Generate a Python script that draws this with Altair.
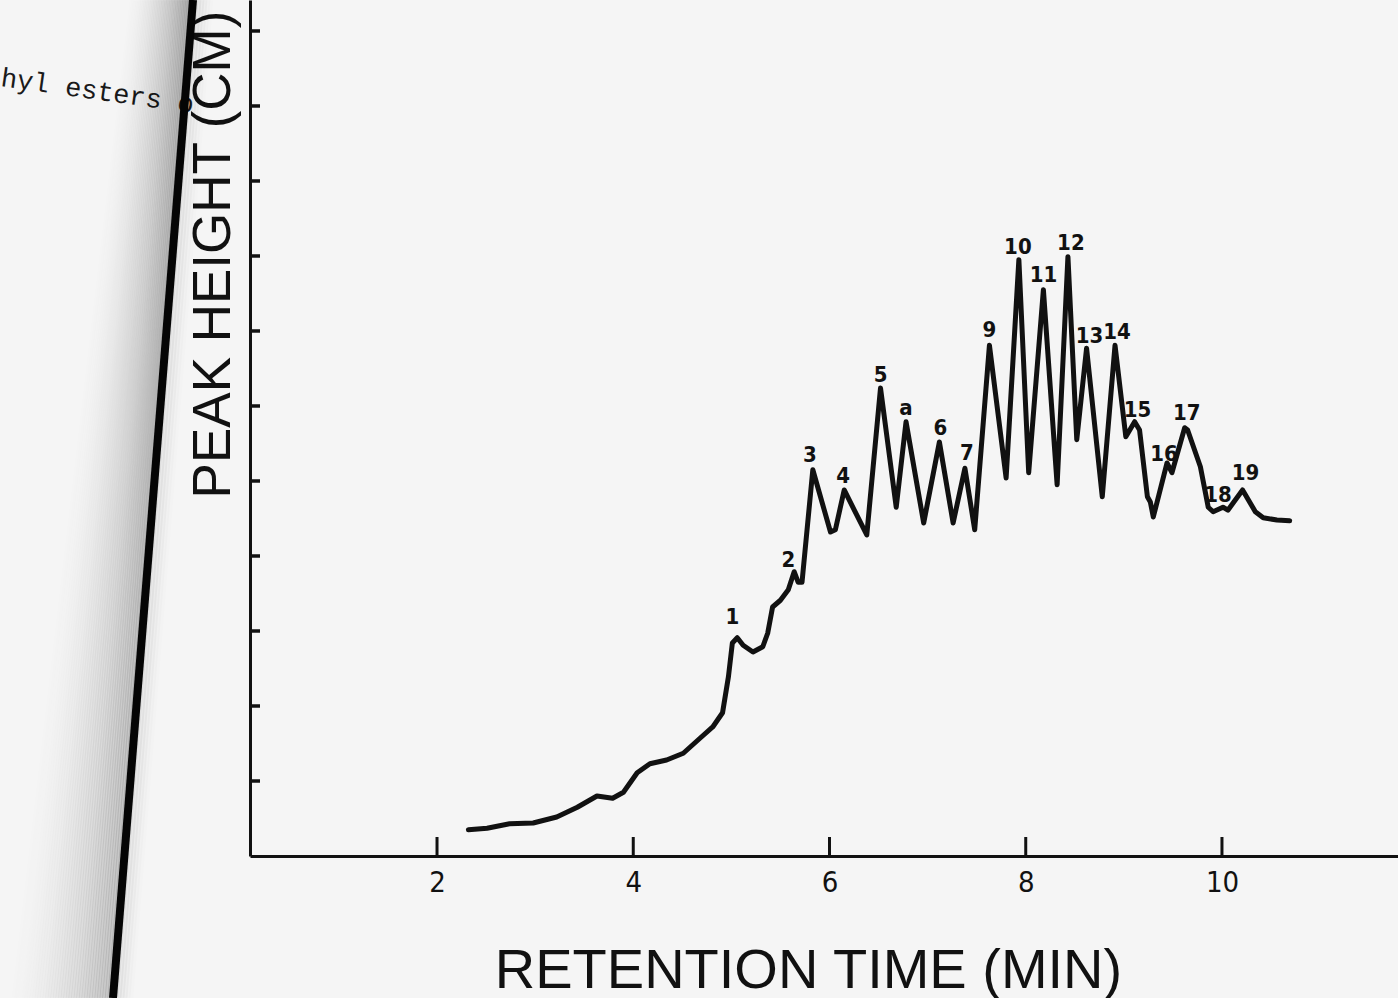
import altair as alt
import pandas as pd

# Chromatogram trace: retention time (min) against recorder peak height (cm)
time_min = [2.32, 2.51, 2.74, 2.98, 3.22, 3.43, 3.63, 3.79, 3.90, 4.04,
            4.17, 4.34, 4.51, 4.68, 4.81, 4.91, 4.97, 5.01, 5.06, 5.12,
            5.22, 5.32, 5.37, 5.42, 5.50, 5.58, 5.63, 5.64, 5.68, 5.72,
            5.83, 6.01, 6.06, 6.15, 6.38, 6.52, 6.68, 6.78, 6.96, 7.12,
            7.26, 7.38, 7.48, 7.63, 7.80, 7.93, 8.03, 8.18, 8.32, 8.43,
            8.52, 8.62, 8.78, 8.91, 9.02, 9.11, 9.16, 9.24, 9.27, 9.30,
            9.44, 9.49, 9.62, 9.65, 9.78, 9.86, 9.91, 10.01, 10.06, 10.21,
            10.34, 10.42, 10.56, 10.69]
height_cm = [0.35, 0.37, 0.43, 0.44, 0.52, 0.65, 0.80, 0.77, 0.85, 1.11,
             1.23, 1.28, 1.37, 1.57, 1.72, 1.91, 2.39, 2.84, 2.91, 2.81,
             2.72, 2.79, 2.97, 3.32, 3.41, 3.55, 3.75, 3.79, 3.65, 3.65,
             5.15, 4.32, 4.35, 4.88, 4.28, 6.24, 4.65, 5.79, 4.44, 5.52,
             4.44, 5.17, 4.35, 6.81, 5.04, 7.95, 5.11, 7.55, 4.95, 7.99,
             5.55, 6.77, 4.79, 6.81, 5.59, 5.79, 5.68, 4.79, 4.72, 4.52,
             5.24, 5.11, 5.71, 5.68, 5.19, 4.65, 4.59, 4.65, 4.61, 4.88,
             4.59, 4.51, 4.48, 4.47]

# Peak identifications, placed just above each peak
peak_names = ["1", "2", "3", "4", "5", "a", "6", "7", "9", "10",
              "11", "12", "13", "14", "15", "16", "17", "18", "19"]
peak_label_t = [5.01, 5.58, 5.80, 6.14, 6.52, 6.78, 7.13, 7.40, 7.63, 7.92,
                8.18, 8.46, 8.65, 8.93, 9.14, 9.41, 9.64, 9.96, 10.24]
peak_label_h = [3.19, 3.95, 5.35, 5.07, 6.41, 5.97, 5.71, 5.37, 7.01, 8.12,
                7.75, 8.17, 6.93, 6.99, 5.95, 5.36, 5.91, 4.81, 5.11]

x_ticks = [2, 4, 6, 8, 10]
y_ticks = list(range(1, 12))

INK = "#111111"
PAPER = "#f5f5f5"
LABEL_FONT = "Liberation Sans Narrow, DejaVu Sans Condensed, Liberation Sans"
TITLE_FONT = "Liberation Sans"

W, H = 1148, 856

x_enc = alt.X(
    "t:Q",
    scale=alt.Scale(domain=[0.094, 11.794], nice=False, zero=False),
    axis=alt.Axis(
        values=x_ticks, format="d", ticks=False, grid=False,
        labelFont=LABEL_FONT, labelFontSize=29, labelColor=INK,
        labelPadding=12, labelFlush=False,
        domainColor=INK, domainWidth=3,
        title="RETENTION TIME (MIN)", titleFont=TITLE_FONT,
        titleFontSize=56, titleFontWeight="normal", titleColor=INK,
        titleX=558, titleY=114, titleAlign="center",
        titleBaseline="middle",
    ),
)
y_enc = alt.Y(
    "h:Q",
    scale=alt.Scale(domain=[0, 11.413], nice=False, zero=False),
    axis=alt.Axis(
        labels=False, ticks=False, grid=False,
        domainColor=INK, domainWidth=3,
        title="PEAK HEIGHT (CM)", titleFont=TITLE_FONT,
        titleFontSize=53, titleFontWeight="normal", titleColor=INK,
        titleAngle=270, titleX=-37, titleY=254, titleAlign="center",
        titleBaseline="middle",
    ),
)

trace = pd.DataFrame({"t": time_min, "h": height_cm})
peaks = pd.DataFrame({"t": peak_label_t, "h": peak_label_h, "name": peak_names})
xt = pd.DataFrame({"t": x_ticks})
yt = pd.DataFrame({"h": y_ticks})
one = pd.DataFrame({"k": [0]})

line = alt.Chart(trace).mark_line(
    color=INK, strokeWidth=5, strokeJoin="round", strokeCap="round"
).encode(x=x_enc, y=y_enc)

labels = alt.Chart(peaks).mark_text(
    font=LABEL_FONT, fontSize=22, fontWeight="bold", color=INK,
    align="center", baseline="middle"
).encode(x=x_enc, y=y_enc, text="name:N")

# inward tick marks on both axes
x_tick_marks = alt.Chart(xt).mark_rule(color=INK, strokeWidth=3).encode(
    x=x_enc, y=alt.value(H), y2=alt.value(H - 19)
)
y_tick_marks = alt.Chart(yt).mark_rule(color=INK, strokeWidth=3.5).encode(
    y=y_enc, x=alt.value(0), x2=alt.value(10)
)

# facing page text and the binding gutter shadow
facing_text = alt.Chart(one).mark_text(
    font="Liberation Mono", fontSize=27, angle=8, align="left",
    baseline="alphabetic", color="#1a1a1a"
).encode(x=alt.value(-250), y=alt.value(86), text=alt.value("hyl esters o"))

gutter = []
N_SHADE = 44
for k in range(N_SHADE, 0, -1):
    op = 0.11 * (1 - k / (N_SHADE + 1)) ** 2
    gutter.append(
        alt.Chart(one).mark_rule(color="#000000", strokeWidth=6, opacity=op).encode(
            x=alt.value(-57 - k * 1.6), x2=alt.value(-137 - k * 2.6),
            y=alt.value(0), y2=alt.value(998),
        )
    )
for k in range(1, 7):
    op = 0.06 * (1 - k / 7)
    gutter.append(
        alt.Chart(one).mark_rule(color="#000000", strokeWidth=5, opacity=op).encode(
            x=alt.value(-57 + k * 3), x2=alt.value(-137 + k * 3),
            y=alt.value(0), y2=alt.value(998),
        )
    )
gutter.append(
    alt.Chart(one).mark_rule(color="#050505", strokeWidth=8).encode(
        x=alt.value(-57), x2=alt.value(-137), y=alt.value(0), y2=alt.value(998)
    )
)

chart = alt.layer(
    facing_text, *gutter, y_tick_marks, x_tick_marks, line, labels
).properties(
    width=W, height=H,
    padding={"left": 250, "top": 0, "right": 0, "bottom": 142},
    autosize="none",
    background=PAPER,
).configure_view(stroke=None)

chart.save("out.html", embed_options={"renderer": "svg", "actions": False})
